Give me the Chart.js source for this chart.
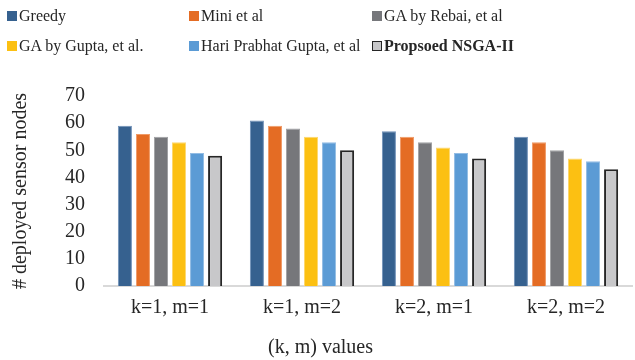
<!DOCTYPE html>
<html>
<head>
<meta charset="utf-8">
<script src="https://cdn.jsdelivr.net/npm/chart.js@4"></script>
<style>
  html, body { margin:0; padding:0; background:#fff; }
  #wrap { position:relative; width:635px; height:360px; }
  #legend { position:absolute; left:0; top:0; width:635px; height:70px; font-family:"Liberation Serif", "Times New Roman", serif; font-size:16px; color:#262626; }
  .li { position:absolute; display:flex; align-items:center; white-space:nowrap; line-height:16px; }
  .sw { width:10px; height:10px; margin-right:2px; box-sizing:border-box; }
</style>
</head>
<body>
<div id="wrap">
  <canvas id="c" width="635" height="360"></canvas>
  <div id="legend"></div>
</div>
<script>
const categories = ["k=1, m=1", "k=1, m=2", "k=2, m=1", "k=2, m=2"];
const seriesNames = ["Greedy", "Mini et al", "GA by Rebai, et al", "GA by Gupta, et al.", "Hari Prabhat Gupta, et al", "Propsoed NSGA-II"];
const greedy = [59, 61, 57, 55];
const mini = [56, 59, 55, 53];
const gaRebai = [55, 58, 53, 50];
const gaGupta = [53, 55, 51, 47];
const hariGupta = [49, 53, 49, 46];
const nsga2 = [48, 50, 47, 43];
const yTicks = [0, 10, 20, 30, 40, 50, 60, 70];

const seriesValues = [greedy, mini, gaRebai, gaGupta, hariGupta, nsga2];
const colors = ["#36618F", "#E46C24", "#76777B", "#FCC012", "#5B9BD5", "#C8C8CA"];
const borders = ["#6F90B8", "#F09A66", "#A0A1A4", "#FDD870", "#92BCE4", "#262626"];
const bw = [1, 1, 1, 1, 1, 2];

const legendPos = [[7,16],[189,16],[372,16],[7,46],[189,46],[372,46]];
const legend = document.getElementById('legend');
seriesNames.forEach((n, i) => {
  const d = document.createElement('div');
  d.className = 'li';
  d.style.left = legendPos[i][0] + 'px';
  d.style.top = (legendPos[i][1] - 8) + 'px';
  const s = document.createElement('span');
  s.className = 'sw';
  s.style.background = colors[i];
  if (i === 5) s.style.border = '1.5px solid #262626';
  const t = document.createElement('span');
  t.textContent = n;
  if (i === 5) t.style.fontWeight = 'bold';
  d.appendChild(s); d.appendChild(t);
  legend.appendChild(d);
});

const font = { family: "'Liberation Serif', 'Times New Roman', serif", size: 20 };
new Chart(document.getElementById('c'), {
  type: 'bar',
  data: {
    labels: categories,
    datasets: seriesValues.map((v, i) => ({
      label: seriesNames[i],
      data: v,
      backgroundColor: colors[i],
      borderColor: borders[i],
      borderWidth: bw[i],
      categoryPercentage: 0.82,
      barPercentage: 0.78
    }))
  },
  options: {
    responsive: false,
    animation: false,
    layout: { padding: { top: 96, right: 3, left: 9, bottom: 0 } },
    plugins: {
      legend: { display: false },
      tooltip: { enabled: false },
      title: {
        display: true, position: 'bottom', text: '(k, m) values',
        font: { ...font, weight: 'normal' }, color: '#262626',
        padding: { top: 14, bottom: 0 }
      }
    },
    scales: {
      x: {
        grid: { display: false },
        border: { display: true, color: '#D9D9D9', width: 2 },
        ticks: { font: font, color: '#262626', padding: 2, maxRotation: 0, autoSkip: false }
      },
      y: {
        min: 0, max: 70,
        afterBuildTicks: (s) => { s.ticks = yTicks.map(v => ({ value: v })); },
        grid: { display: false },
        border: { display: false },
        ticks: { font: font, color: '#262626', padding: 11, autoSkip: false },
        title: { display: true, text: '# deployed sensor nodes', font: font, color: '#262626', padding: { top: 0, bottom: 21 } }
      }
    }
  }
});
</script>
</body>
</html>
